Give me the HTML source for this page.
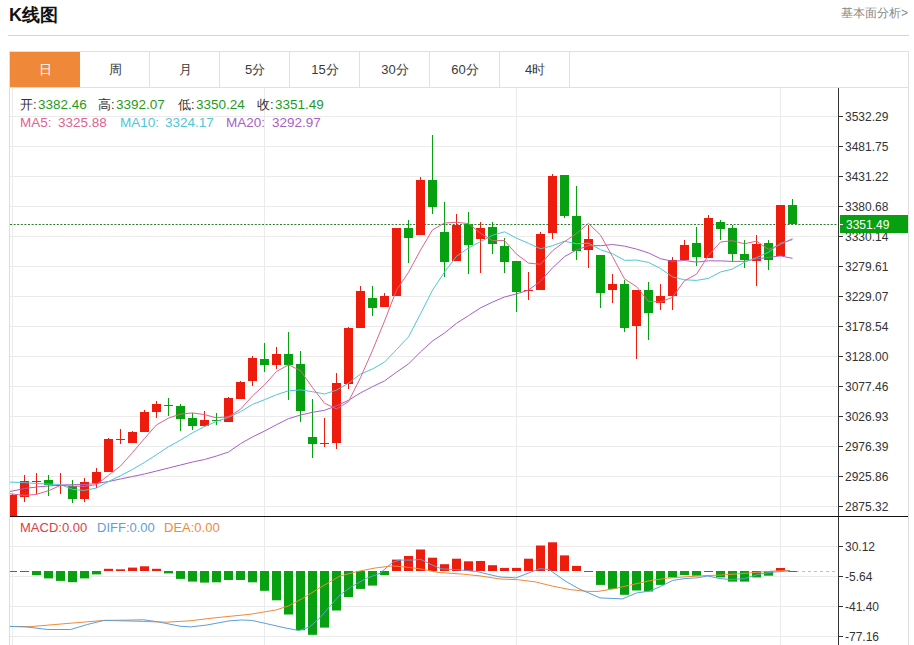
<!DOCTYPE html>
<html><head><meta charset="utf-8"><style>
html,body{margin:0;padding:0;background:#fff;}
body{width:914px;height:645px;position:relative;overflow:hidden;font-family:"Liberation Sans",sans-serif;color:#333;}
.t{position:absolute;white-space:nowrap;}
#title{left:9px;top:3px;font-size:18px;font-weight:bold;color:#111;line-height:24px;}
#more{right:6px;top:5px;font-size:12px;color:#888;line-height:16px;}
#hr{position:absolute;left:8px;top:35px;width:901px;height:1px;background:#d4d4d4;}
#tabs{position:absolute;left:9px;top:51px;width:900px;height:37px;border:1px solid #e0e0e0;box-sizing:border-box;}
.dv{position:absolute;top:52px;width:1px;height:35px;background:#e0e0e0;}
.tab{position:absolute;top:52px;height:35px;width:70px;font-size:13px;line-height:36px;text-align:center;color:#3a3a3a;}
#on{position:absolute;left:10px;top:52px;width:70px;height:35px;background:#f0883a;font-size:13px;line-height:36px;text-align:center;color:#fff;}
svg{position:absolute;left:0;top:0;}
.ax{font-family:"Liberation Sans",sans-serif;font-size:12px;fill:#333;}
.lg{position:absolute;font-size:13px;line-height:16px;white-space:nowrap;}
</style></head><body>
<div id="title" class="t">K线图</div>
<div id="more" class="t">基本面分析&gt;</div>
<div id="hr"></div>
<div id="tabs"></div>
<div id="on">日</div>
<div class="dv" style="left:149px"></div>
<div class="tab" style="left:80px">周</div>
<div class="dv" style="left:219px"></div>
<div class="tab" style="left:150px">月</div>
<div class="dv" style="left:289px"></div>
<div class="tab" style="left:220px">5分</div>
<div class="dv" style="left:359px"></div>
<div class="tab" style="left:290px">15分</div>
<div class="dv" style="left:429px"></div>
<div class="tab" style="left:360px">30分</div>
<div class="dv" style="left:499px"></div>
<div class="tab" style="left:430px">60分</div>
<div class="dv" style="left:569px"></div>
<div class="tab" style="left:500px">4时</div>
<svg width="914" height="645" viewBox="0 0 914 645">
<line x1="10" y1="116.5" x2="838" y2="116.5" stroke="#ebebeb" stroke-width="1"/>
<line x1="10" y1="146.5" x2="838" y2="146.5" stroke="#ebebeb" stroke-width="1"/>
<line x1="10" y1="176.5" x2="838" y2="176.5" stroke="#ebebeb" stroke-width="1"/>
<line x1="10" y1="206.5" x2="838" y2="206.5" stroke="#ebebeb" stroke-width="1"/>
<line x1="10" y1="236.5" x2="838" y2="236.5" stroke="#ebebeb" stroke-width="1"/>
<line x1="10" y1="266.5" x2="838" y2="266.5" stroke="#ebebeb" stroke-width="1"/>
<line x1="10" y1="296.5" x2="838" y2="296.5" stroke="#ebebeb" stroke-width="1"/>
<line x1="10" y1="326.5" x2="838" y2="326.5" stroke="#ebebeb" stroke-width="1"/>
<line x1="10" y1="356.5" x2="838" y2="356.5" stroke="#ebebeb" stroke-width="1"/>
<line x1="10" y1="386.5" x2="838" y2="386.5" stroke="#ebebeb" stroke-width="1"/>
<line x1="10" y1="416.5" x2="838" y2="416.5" stroke="#ebebeb" stroke-width="1"/>
<line x1="10" y1="446.5" x2="838" y2="446.5" stroke="#ebebeb" stroke-width="1"/>
<line x1="10" y1="476.5" x2="838" y2="476.5" stroke="#ebebeb" stroke-width="1"/>
<line x1="10" y1="506.5" x2="838" y2="506.5" stroke="#ebebeb" stroke-width="1"/>
<line x1="10" y1="546.5" x2="838" y2="546.5" stroke="#ebebeb" stroke-width="1"/>
<line x1="10" y1="576.5" x2="838" y2="576.5" stroke="#ebebeb" stroke-width="1"/>
<line x1="10" y1="606.5" x2="838" y2="606.5" stroke="#ebebeb" stroke-width="1"/>
<line x1="10" y1="636.5" x2="838" y2="636.5" stroke="#ebebeb" stroke-width="1"/>
<line x1="12.5" y1="88" x2="12.5" y2="645" stroke="#ebebeb" stroke-width="1"/>
<line x1="264.5" y1="88" x2="264.5" y2="645" stroke="#ebebeb" stroke-width="1"/>
<line x1="516.5" y1="88" x2="516.5" y2="645" stroke="#ebebeb" stroke-width="1"/>
<line x1="780.5" y1="88" x2="780.5" y2="645" stroke="#ebebeb" stroke-width="1"/>
<defs><clipPath id="cm"><rect x="10" y="88" width="828" height="428"/></clipPath><clipPath id="cd"><rect x="10" y="517" width="828" height="128"/></clipPath></defs>
<g clip-path="url(#cm)">
<line x1="10" y1="224.5" x2="838" y2="224.5" stroke="#2f7a2f" stroke-width="1" stroke-dasharray="2,1.6"/>
<rect x="12" y="494" width="1" height="26" fill="#ee1c0c"/>
<rect x="8" y="495" width="9" height="25" fill="#ee1c0c"/>
<rect x="24" y="475" width="1" height="27" fill="#ee1c0c"/>
<rect x="20" y="481" width="9" height="16" fill="#ee1c0c"/>
<rect x="36" y="473" width="1" height="21" fill="#ee1c0c"/>
<rect x="32" y="481" width="9" height="1" fill="#ee1c0c"/>
<rect x="48" y="475" width="1" height="21" fill="#06a010"/>
<rect x="44" y="480" width="9" height="5" fill="#06a010"/>
<rect x="60" y="473" width="1" height="21" fill="#ee1c0c"/>
<rect x="56" y="485" width="9" height="1" fill="#ee1c0c"/>
<rect x="72" y="480" width="1" height="23" fill="#06a010"/>
<rect x="68" y="486" width="9" height="13" fill="#06a010"/>
<rect x="84" y="478" width="1" height="24" fill="#ee1c0c"/>
<rect x="80" y="482" width="9" height="17" fill="#ee1c0c"/>
<rect x="96" y="468" width="1" height="20" fill="#ee1c0c"/>
<rect x="92" y="472" width="9" height="11" fill="#ee1c0c"/>
<rect x="108" y="438" width="1" height="34" fill="#ee1c0c"/>
<rect x="104" y="439" width="9" height="33" fill="#ee1c0c"/>
<rect x="120" y="429" width="1" height="15" fill="#ee1c0c"/>
<rect x="116" y="439" width="9" height="1" fill="#ee1c0c"/>
<rect x="132" y="431" width="1" height="12" fill="#ee1c0c"/>
<rect x="128" y="432" width="9" height="11" fill="#ee1c0c"/>
<rect x="144" y="410" width="1" height="22" fill="#ee1c0c"/>
<rect x="140" y="412" width="9" height="20" fill="#ee1c0c"/>
<rect x="156" y="401" width="1" height="17" fill="#ee1c0c"/>
<rect x="152" y="404" width="9" height="8" fill="#ee1c0c"/>
<rect x="168" y="398" width="1" height="18" fill="#06a010"/>
<rect x="164" y="405" width="9" height="1" fill="#06a010"/>
<rect x="180" y="404" width="1" height="27" fill="#06a010"/>
<rect x="176" y="406" width="9" height="13" fill="#06a010"/>
<rect x="192" y="413" width="1" height="17" fill="#06a010"/>
<rect x="188" y="418" width="9" height="8" fill="#06a010"/>
<rect x="204" y="411" width="1" height="16" fill="#ee1c0c"/>
<rect x="200" y="420" width="9" height="6" fill="#ee1c0c"/>
<rect x="216" y="413" width="1" height="12" fill="#06a010"/>
<rect x="212" y="420" width="9" height="1" fill="#06a010"/>
<rect x="228" y="397" width="1" height="25" fill="#ee1c0c"/>
<rect x="224" y="398" width="9" height="24" fill="#ee1c0c"/>
<rect x="240" y="381" width="1" height="18" fill="#ee1c0c"/>
<rect x="236" y="382" width="9" height="17" fill="#ee1c0c"/>
<rect x="252" y="356" width="1" height="30" fill="#ee1c0c"/>
<rect x="248" y="358" width="9" height="23" fill="#ee1c0c"/>
<rect x="264" y="343" width="1" height="29" fill="#06a010"/>
<rect x="260" y="359" width="9" height="6" fill="#06a010"/>
<rect x="276" y="347" width="1" height="22" fill="#ee1c0c"/>
<rect x="272" y="354" width="9" height="11" fill="#ee1c0c"/>
<rect x="288" y="332" width="1" height="68" fill="#06a010"/>
<rect x="284" y="354" width="9" height="11" fill="#06a010"/>
<rect x="300" y="351" width="1" height="71" fill="#06a010"/>
<rect x="296" y="364" width="9" height="47" fill="#06a010"/>
<rect x="312" y="399" width="1" height="59" fill="#06a010"/>
<rect x="308" y="437" width="9" height="7" fill="#06a010"/>
<rect x="324" y="418" width="1" height="29" fill="#ee1c0c"/>
<rect x="320" y="443" width="9" height="1" fill="#ee1c0c"/>
<rect x="336" y="373" width="1" height="76" fill="#ee1c0c"/>
<rect x="332" y="383" width="9" height="60" fill="#ee1c0c"/>
<rect x="348" y="327" width="1" height="62" fill="#ee1c0c"/>
<rect x="344" y="328" width="9" height="56" fill="#ee1c0c"/>
<rect x="360" y="286" width="1" height="42" fill="#ee1c0c"/>
<rect x="356" y="291" width="9" height="37" fill="#ee1c0c"/>
<rect x="372" y="286" width="1" height="30" fill="#06a010"/>
<rect x="368" y="298" width="9" height="10" fill="#06a010"/>
<rect x="384" y="293" width="1" height="14" fill="#ee1c0c"/>
<rect x="380" y="296" width="9" height="11" fill="#ee1c0c"/>
<rect x="396" y="228" width="1" height="68" fill="#ee1c0c"/>
<rect x="392" y="228" width="9" height="68" fill="#ee1c0c"/>
<rect x="408" y="220" width="1" height="43" fill="#06a010"/>
<rect x="404" y="228" width="9" height="10" fill="#06a010"/>
<rect x="420" y="177" width="1" height="58" fill="#ee1c0c"/>
<rect x="416" y="180" width="9" height="55" fill="#ee1c0c"/>
<rect x="432" y="135" width="1" height="79" fill="#06a010"/>
<rect x="428" y="180" width="9" height="27" fill="#06a010"/>
<rect x="444" y="202" width="1" height="75" fill="#06a010"/>
<rect x="440" y="232" width="9" height="30" fill="#06a010"/>
<rect x="456" y="214" width="1" height="47" fill="#ee1c0c"/>
<rect x="452" y="225" width="9" height="36" fill="#ee1c0c"/>
<rect x="468" y="212" width="1" height="62" fill="#06a010"/>
<rect x="464" y="224" width="9" height="21" fill="#06a010"/>
<rect x="480" y="222" width="1" height="51" fill="#ee1c0c"/>
<rect x="476" y="228" width="9" height="11" fill="#ee1c0c"/>
<rect x="492" y="222" width="1" height="32" fill="#06a010"/>
<rect x="488" y="227" width="9" height="17" fill="#06a010"/>
<rect x="504" y="238" width="1" height="35" fill="#06a010"/>
<rect x="500" y="246" width="9" height="16" fill="#06a010"/>
<rect x="516" y="261" width="1" height="51" fill="#06a010"/>
<rect x="512" y="261" width="9" height="31" fill="#06a010"/>
<rect x="528" y="272" width="1" height="28" fill="#ee1c0c"/>
<rect x="524" y="290" width="9" height="1" fill="#ee1c0c"/>
<rect x="540" y="232" width="1" height="58" fill="#ee1c0c"/>
<rect x="536" y="234" width="9" height="56" fill="#ee1c0c"/>
<rect x="552" y="174" width="1" height="65" fill="#ee1c0c"/>
<rect x="548" y="176" width="9" height="57" fill="#ee1c0c"/>
<rect x="564" y="175" width="1" height="43" fill="#06a010"/>
<rect x="560" y="175" width="9" height="41" fill="#06a010"/>
<rect x="576" y="186" width="1" height="74" fill="#06a010"/>
<rect x="572" y="216" width="9" height="35" fill="#06a010"/>
<rect x="588" y="225" width="1" height="43" fill="#ee1c0c"/>
<rect x="584" y="239" width="9" height="11" fill="#ee1c0c"/>
<rect x="600" y="255" width="1" height="53" fill="#06a010"/>
<rect x="596" y="255" width="9" height="38" fill="#06a010"/>
<rect x="612" y="274" width="1" height="29" fill="#ee1c0c"/>
<rect x="608" y="284" width="9" height="6" fill="#ee1c0c"/>
<rect x="624" y="280" width="1" height="52" fill="#06a010"/>
<rect x="620" y="284" width="9" height="44" fill="#06a010"/>
<rect x="636" y="290" width="1" height="69" fill="#ee1c0c"/>
<rect x="632" y="290" width="9" height="36" fill="#ee1c0c"/>
<rect x="648" y="282" width="1" height="58" fill="#06a010"/>
<rect x="644" y="290" width="9" height="23" fill="#06a010"/>
<rect x="660" y="284" width="1" height="26" fill="#ee1c0c"/>
<rect x="656" y="296" width="9" height="7" fill="#ee1c0c"/>
<rect x="672" y="257" width="1" height="53" fill="#ee1c0c"/>
<rect x="668" y="260" width="9" height="36" fill="#ee1c0c"/>
<rect x="684" y="240" width="1" height="20" fill="#ee1c0c"/>
<rect x="680" y="245" width="9" height="15" fill="#ee1c0c"/>
<rect x="696" y="227" width="1" height="39" fill="#06a010"/>
<rect x="692" y="243" width="9" height="14" fill="#06a010"/>
<rect x="708" y="215" width="1" height="43" fill="#ee1c0c"/>
<rect x="704" y="218" width="9" height="40" fill="#ee1c0c"/>
<rect x="720" y="220" width="1" height="20" fill="#06a010"/>
<rect x="716" y="222" width="9" height="7" fill="#06a010"/>
<rect x="732" y="225" width="1" height="37" fill="#06a010"/>
<rect x="728" y="228" width="9" height="26" fill="#06a010"/>
<rect x="744" y="240" width="1" height="28" fill="#06a010"/>
<rect x="740" y="254" width="9" height="6" fill="#06a010"/>
<rect x="756" y="235" width="1" height="51" fill="#ee1c0c"/>
<rect x="752" y="244" width="9" height="17" fill="#ee1c0c"/>
<rect x="768" y="240" width="1" height="30" fill="#06a010"/>
<rect x="764" y="243" width="9" height="17" fill="#06a010"/>
<rect x="780" y="205" width="1" height="51" fill="#ee1c0c"/>
<rect x="776" y="205" width="9" height="51" fill="#ee1c0c"/>
<rect x="792" y="199" width="1" height="25" fill="#06a010"/>
<rect x="788" y="205" width="9" height="19" fill="#06a010"/>
<polyline points="9.0,491.5 12.5,491.0 24.5,488.5 36.5,487.0 48.5,486.0 60.5,485.0 72.5,484.7 84.5,484.5 96.5,483.5 108.5,481.5 120.5,479.0 132.5,476.5 144.5,474.0 156.5,471.0 168.5,468.0 180.5,465.0 192.5,462.0 204.5,459.5 216.5,456.0 228.5,452.0 240.5,443.7 252.5,436.9 264.5,431.1 276.5,424.7 288.5,418.7 300.5,415.0 312.5,412.3 324.5,410.3 336.5,405.8 348.5,400.3 360.5,392.9 372.5,386.7 384.5,380.9 396.5,372.2 408.5,363.9 420.5,351.9 432.5,341.0 444.5,333.0 456.5,323.3 468.5,315.6 480.5,307.9 492.5,302.1 504.5,297.0 516.5,293.9 528.5,290.1 540.5,281.3 552.5,267.9 564.5,256.6 576.5,250.0 588.5,245.6 600.5,245.7 612.5,244.5 624.5,246.1 636.5,249.1 648.5,252.9 660.5,258.7 672.5,261.3 684.5,260.5 696.5,262.1 708.5,260.8 720.5,260.9 732.5,261.4 744.5,261.3 756.5,258.9 768.5,257.4 780.5,255.9 792.5,258.3" fill="none" stroke="#a85fc6" stroke-width="1"/>
<polyline points="9.0,482.1 12.5,482.2 24.5,482.6 36.5,483.5 48.5,484.0 60.5,484.5 72.5,489.4 84.5,490.4 96.5,488.0 108.5,481.5 120.5,475.7 132.5,469.4 144.5,462.4 156.5,454.7 168.5,446.7 180.5,440.1 192.5,432.8 204.5,426.6 216.5,421.4 228.5,417.4 240.5,411.7 252.5,404.4 264.5,399.7 276.5,394.7 288.5,390.8 300.5,389.9 312.5,391.7 324.5,394.0 336.5,390.2 348.5,383.2 360.5,374.1 372.5,369.0 384.5,362.1 396.5,349.6 408.5,336.9 420.5,313.9 432.5,290.2 444.5,272.1 456.5,256.3 468.5,247.9 480.5,241.7 492.5,235.3 504.5,231.8 516.5,238.2 528.5,243.3 540.5,248.8 552.5,245.7 564.5,241.2 576.5,243.8 588.5,243.2 600.5,249.7 612.5,253.7 624.5,260.3 636.5,260.1 648.5,262.4 660.5,268.5 672.5,276.9 684.5,279.8 696.5,280.4 708.5,278.4 720.5,272.0 732.5,269.0 744.5,262.2 756.5,257.6 768.5,252.3 780.5,243.3 792.5,239.7" fill="none" stroke="#4fc6d6" stroke-width="1"/>
<polyline points="9.0,493.7 12.5,494.0 24.5,495.4 36.5,494.4 48.5,490.7 60.5,485.4 72.5,486.1 84.5,486.3 96.5,484.6 108.5,475.2 120.5,466.0 132.5,452.6 144.5,438.5 156.5,424.9 168.5,418.1 180.5,414.1 192.5,412.9 204.5,414.6 216.5,417.9 228.5,416.7 240.5,409.3 252.5,395.9 264.5,384.9 276.5,371.5 288.5,364.8 300.5,370.6 312.5,387.6 324.5,403.2 336.5,409.0 348.5,401.6 360.5,377.6 372.5,350.4 384.5,321.1 396.5,290.2 408.5,272.3 420.5,250.1 432.5,229.9 444.5,223.0 456.5,222.3 468.5,223.6 480.5,233.2 492.5,240.6 504.5,240.6 516.5,254.1 528.5,263.1 540.5,264.3 552.5,250.8 564.5,241.7 576.5,233.5 588.5,223.4 600.5,235.1 612.5,256.6 624.5,278.9 636.5,286.6 648.5,301.4 660.5,302.0 672.5,297.3 684.5,280.7 696.5,274.2 708.5,255.3 720.5,242.0 732.5,240.7 744.5,243.8 756.5,241.1 768.5,249.4 780.5,244.6 792.5,238.6" fill="none" stroke="#e0628e" stroke-width="1"/>
</g>
<g clip-path="url(#cd)">
<line x1="790" y1="571.5" x2="838" y2="571.5" stroke="#9ccbe8" stroke-width="1" stroke-dasharray="3,3"/>
<rect x="8" y="571" width="9" height="1.0" fill="#06a010"/>
<rect x="20" y="571" width="9" height="1.0" fill="#06a010"/>
<rect x="32" y="571" width="9" height="4.1" fill="#06a010"/>
<rect x="44" y="571" width="9" height="7.4" fill="#06a010"/>
<rect x="56" y="571" width="9" height="9.9" fill="#06a010"/>
<rect x="68" y="571" width="9" height="11.2" fill="#06a010"/>
<rect x="80" y="571" width="9" height="7.4" fill="#06a010"/>
<rect x="92" y="571" width="9" height="3.4" fill="#06a010"/>
<rect x="104" y="568.8" width="9" height="2.2" fill="#ee1c0c"/>
<rect x="116" y="569.3" width="9" height="1.7" fill="#ee1c0c"/>
<rect x="128" y="567.6" width="9" height="3.4" fill="#ee1c0c"/>
<rect x="140" y="566.3" width="9" height="4.7" fill="#ee1c0c"/>
<rect x="152" y="568.8" width="9" height="2.2" fill="#ee1c0c"/>
<rect x="164" y="571" width="9" height="2.4" fill="#06a010"/>
<rect x="176" y="571" width="9" height="7.9" fill="#06a010"/>
<rect x="188" y="571" width="9" height="10.6" fill="#06a010"/>
<rect x="200" y="571" width="9" height="11.6" fill="#06a010"/>
<rect x="212" y="571" width="9" height="11.3" fill="#06a010"/>
<rect x="224" y="571" width="9" height="9.0" fill="#06a010"/>
<rect x="236" y="571" width="9" height="9.0" fill="#06a010"/>
<rect x="248" y="571" width="9" height="11.3" fill="#06a010"/>
<rect x="260" y="571" width="9" height="19.8" fill="#06a010"/>
<rect x="272" y="571" width="9" height="29.3" fill="#06a010"/>
<rect x="284" y="571" width="9" height="43.5" fill="#06a010"/>
<rect x="296" y="571" width="9" height="59.2" fill="#06a010"/>
<rect x="308" y="571" width="9" height="63.8" fill="#06a010"/>
<rect x="320" y="571" width="9" height="56.6" fill="#06a010"/>
<rect x="332" y="571" width="9" height="39.5" fill="#06a010"/>
<rect x="344" y="571" width="9" height="26.0" fill="#06a010"/>
<rect x="356" y="571" width="9" height="17.9" fill="#06a010"/>
<rect x="368" y="571" width="9" height="14.6" fill="#06a010"/>
<rect x="380" y="571" width="9" height="4.0" fill="#06a010"/>
<rect x="392" y="559.6" width="9" height="11.4" fill="#ee1c0c"/>
<rect x="404" y="556.0" width="9" height="15.0" fill="#ee1c0c"/>
<rect x="416" y="549.5" width="9" height="21.5" fill="#ee1c0c"/>
<rect x="428" y="557.7" width="9" height="13.3" fill="#ee1c0c"/>
<rect x="440" y="564.2" width="9" height="6.8" fill="#ee1c0c"/>
<rect x="452" y="558.7" width="9" height="12.3" fill="#ee1c0c"/>
<rect x="464" y="561.3" width="9" height="9.7" fill="#ee1c0c"/>
<rect x="476" y="561.0" width="9" height="10.0" fill="#ee1c0c"/>
<rect x="488" y="565.2" width="9" height="5.8" fill="#ee1c0c"/>
<rect x="500" y="567.9" width="9" height="3.1" fill="#ee1c0c"/>
<rect x="512" y="567.9" width="9" height="3.1" fill="#ee1c0c"/>
<rect x="524" y="558.7" width="9" height="12.3" fill="#ee1c0c"/>
<rect x="536" y="545.5" width="9" height="25.5" fill="#ee1c0c"/>
<rect x="548" y="542.3" width="9" height="28.7" fill="#ee1c0c"/>
<rect x="560" y="555.4" width="9" height="15.6" fill="#ee1c0c"/>
<rect x="572" y="565.9" width="9" height="5.1" fill="#ee1c0c"/>
<rect x="584" y="571" width="9" height="1.0" fill="#06a010"/>
<rect x="596" y="571" width="9" height="13.9" fill="#06a010"/>
<rect x="608" y="571" width="9" height="17.9" fill="#06a010"/>
<rect x="620" y="571" width="9" height="23.8" fill="#06a010"/>
<rect x="632" y="571" width="9" height="19.5" fill="#06a010"/>
<rect x="644" y="571" width="9" height="20.5" fill="#06a010"/>
<rect x="656" y="571" width="9" height="13.9" fill="#06a010"/>
<rect x="668" y="571" width="9" height="6.4" fill="#06a010"/>
<rect x="680" y="571" width="9" height="4.0" fill="#06a010"/>
<rect x="692" y="571" width="9" height="4.7" fill="#06a010"/>
<rect x="704" y="571" width="9" height="1.0" fill="#06a010"/>
<rect x="716" y="571" width="9" height="6.4" fill="#06a010"/>
<rect x="728" y="571" width="9" height="10.6" fill="#06a010"/>
<rect x="740" y="571" width="9" height="10.6" fill="#06a010"/>
<rect x="752" y="571" width="9" height="6.4" fill="#06a010"/>
<rect x="764" y="571" width="9" height="4.7" fill="#06a010"/>
<rect x="776" y="568.0" width="9" height="3.0" fill="#ee1c0c"/>
<rect x="788" y="571" width="9" height="1.0" fill="#06a010"/>
<polyline points="9.0,626.4 31.2,626.6 62.4,623.9 104.0,620.4 135.0,621.2 166.3,622.2 190.0,620.8 215.0,617.8 250.0,614.3 276.3,609.9 288.5,605.9 302.5,598.5 320.0,587.7 340.0,576.0 357.5,571.5 375.0,568.0 392.5,565.9 406.5,567.1 420.5,568.9 438.0,572.4 462.5,574.1 480.0,575.9 500.0,579.0 517.5,579.7 535.0,581.8 552.5,586.1 570.0,589.6 587.5,591.4 598.0,591.4 614.0,588.8 631.0,584.9 649.0,580.9 667.5,578.1 685.0,576.9 702.5,575.7 720.0,575.1 737.5,573.9 755.0,572.5 772.5,571.1 790.0,570.4" fill="none" stroke="#f08a3a" stroke-width="1"/>
<polyline points="9.0,626.4 27.0,627.0 47.8,629.5 70.7,629.5 87.3,624.5 104.0,620.4 124.7,620.2 143.5,619.8 158.0,621.8 180.0,626.2 190.5,626.9 206.3,625.1 229.0,620.9 241.3,620.0 251.8,620.4 267.5,623.9 285.0,627.9 299.0,630.5 309.5,626.9 320.0,617.8 330.5,605.5 340.0,595.0 350.5,587.3 366.0,578.5 380.0,573.3 392.5,562.4 399.5,560.1 413.5,560.1 420.5,559.3 431.0,564.5 441.5,568.9 459.0,569.8 476.5,571.5 500.0,577.0 516.0,577.9 540.0,568.6 549.0,569.5 565.0,580.9 579.0,588.8 600.0,597.9 622.5,598.9 636.5,593.0 650.0,590.9 660.5,586.5 672.8,580.4 685.0,578.6 697.3,577.8 707.8,576.0 720.0,578.6 730.5,579.5 744.5,578.6 758.5,574.3 772.5,572.2 790.0,570.8" fill="none" stroke="#5c9fd8" stroke-width="1"/>
</g>
<line x1="838.5" y1="88" x2="838.5" y2="645" stroke="#333" stroke-width="1"/>
<line x1="10" y1="516.5" x2="909" y2="516.5" stroke="#111" stroke-width="1.2"/>
<line x1="9.5" y1="87" x2="9.5" y2="645" stroke="#ddd" stroke-width="1"/>
<line x1="908.5" y1="87" x2="908.5" y2="645" stroke="#ddd" stroke-width="1"/>
<line x1="838" y1="116.5" x2="843" y2="116.5" stroke="#333" stroke-width="1"/>
<text x="845" y="120.5" class="ax">3532.29</text>
<line x1="838" y1="146.5" x2="843" y2="146.5" stroke="#333" stroke-width="1"/>
<text x="845" y="150.5" class="ax">3481.75</text>
<line x1="838" y1="176.5" x2="843" y2="176.5" stroke="#333" stroke-width="1"/>
<text x="845" y="180.5" class="ax">3431.22</text>
<line x1="838" y1="206.5" x2="843" y2="206.5" stroke="#333" stroke-width="1"/>
<text x="845" y="210.5" class="ax">3380.68</text>
<line x1="838" y1="236.5" x2="843" y2="236.5" stroke="#333" stroke-width="1"/>
<text x="845" y="240.5" class="ax">3330.14</text>
<line x1="838" y1="266.5" x2="843" y2="266.5" stroke="#333" stroke-width="1"/>
<text x="845" y="270.5" class="ax">3279.61</text>
<line x1="838" y1="296.5" x2="843" y2="296.5" stroke="#333" stroke-width="1"/>
<text x="845" y="300.5" class="ax">3229.07</text>
<line x1="838" y1="326.5" x2="843" y2="326.5" stroke="#333" stroke-width="1"/>
<text x="845" y="330.5" class="ax">3178.54</text>
<line x1="838" y1="356.5" x2="843" y2="356.5" stroke="#333" stroke-width="1"/>
<text x="845" y="360.5" class="ax">3128.00</text>
<line x1="838" y1="386.5" x2="843" y2="386.5" stroke="#333" stroke-width="1"/>
<text x="845" y="390.5" class="ax">3077.46</text>
<line x1="838" y1="416.5" x2="843" y2="416.5" stroke="#333" stroke-width="1"/>
<text x="845" y="420.5" class="ax">3026.93</text>
<line x1="838" y1="446.5" x2="843" y2="446.5" stroke="#333" stroke-width="1"/>
<text x="845" y="450.5" class="ax">2976.39</text>
<line x1="838" y1="476.5" x2="843" y2="476.5" stroke="#333" stroke-width="1"/>
<text x="845" y="480.5" class="ax">2925.86</text>
<line x1="838" y1="506.5" x2="843" y2="506.5" stroke="#333" stroke-width="1"/>
<text x="845" y="510.5" class="ax">2875.32</text>
<line x1="838" y1="546.5" x2="843" y2="546.5" stroke="#333" stroke-width="1"/>
<text x="845" y="550.5" class="ax">30.12</text>
<line x1="838" y1="576.5" x2="843" y2="576.5" stroke="#333" stroke-width="1"/>
<text x="845" y="580.5" class="ax">-5.64</text>
<line x1="838" y1="606.5" x2="843" y2="606.5" stroke="#333" stroke-width="1"/>
<text x="845" y="610.5" class="ax">-41.40</text>
<line x1="838" y1="636.5" x2="843" y2="636.5" stroke="#333" stroke-width="1"/>
<text x="845" y="640.5" class="ax">-77.16</text>
<rect x="840" y="215" width="68" height="18" fill="#07a010"/>
<line x1="840" y1="224.5" x2="843" y2="224.5" stroke="#fff" stroke-width="1"/>
<text x="846" y="229" class="ax" style="fill:#fff">3351.49</text>
</svg>
<div class="lg" style="left:20px;top:97px;font-size:13px;color:#333">开:</div>
<div class="lg" style="left:38px;top:97px;font-size:13.5px;color:#1f9a1f">3382.46</div>
<div class="lg" style="left:98px;top:97px;font-size:13px;color:#333">高:</div>
<div class="lg" style="left:116px;top:97px;font-size:13.5px;color:#1f9a1f">3392.07</div>
<div class="lg" style="left:178px;top:97px;font-size:13px;color:#333">低:</div>
<div class="lg" style="left:196px;top:97px;font-size:13.5px;color:#1f9a1f">3350.24</div>
<div class="lg" style="left:257px;top:97px;font-size:13px;color:#333">收:</div>
<div class="lg" style="left:275px;top:97px;font-size:13.5px;color:#1f9a1f">3351.49</div>
<div class="lg" style="left:20px;top:115px;font-size:13.5px;color:#e0628e">MA5:</div>
<div class="lg" style="left:58px;top:115px;font-size:13.5px;color:#e0628e">3325.88</div>
<div class="lg" style="left:120px;top:115px;font-size:13.5px;color:#4fc6d6">MA10:</div>
<div class="lg" style="left:165px;top:115px;font-size:13.5px;color:#4fc6d6">3324.17</div>
<div class="lg" style="left:226px;top:115px;font-size:13.5px;color:#a85fc6">MA20:</div>
<div class="lg" style="left:272px;top:115px;font-size:13.5px;color:#a85fc6">3292.97</div>
<div class="lg" style="left:20px;top:520px;font-size:13px;color:#e0403f">MACD:0.00</div>
<div class="lg" style="left:97px;top:520px;font-size:13px;color:#5c9fd8">DIFF:0.00</div>
<div class="lg" style="left:164px;top:520px;font-size:13px;color:#f08a3a">DEA:0.00</div>
</body></html>
